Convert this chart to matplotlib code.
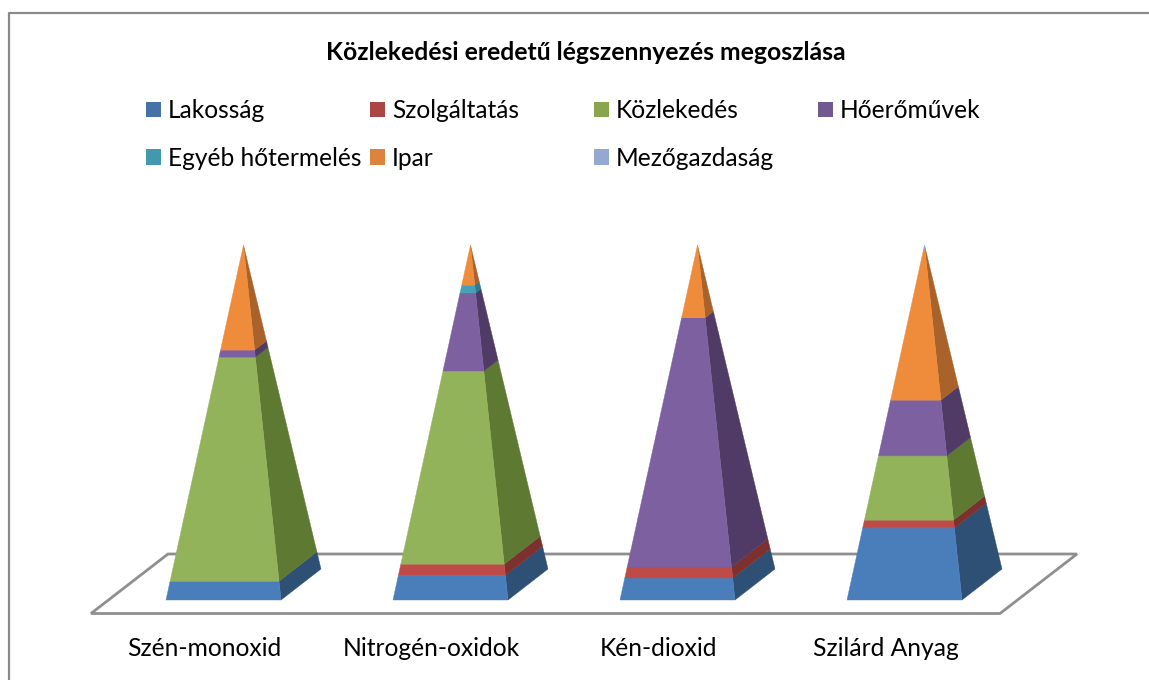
#!/usr/bin/env python3
# plot.py
# Stacked 100% pyramids, drawn as flat polygons on a category / percent axes

import matplotlib
matplotlib.use("Agg")
import matplotlib.pyplot as plt
from matplotlib.patches import Polygon, Rectangle

TITLE = "Közlekedési eredetű légszennyezés megoszlása"
categories = ["Szén-monoxid", "Nitrogén-oxidok", "Kén-dioxid", "Szilárd Anyag"]
series_names = ["Lakosság", "Szolgáltatás", "Közlekedés", "Hőerőművek",
                "Egyéb hőtermelés", "Ipar", "Mezőgazdaság"]

# percent share per category
lakossag = [5.3, 7.0, 6.2, 20.3]
szolgaltatas = [0.0, 3.1, 3.1, 2.2]
kozlekedes = [63.1, 54.4, 0.0, 18.1]
hoeromuvek = [2.0, 22.0, 70.2, 15.7]
egyeb = [0.0, 2.2, 0.0, 0.0]
ipar = [29.6, 11.3, 20.5, 42.3]
mezogazdasag = [0.0, 0.0, 0.0, 1.4]

front_colors = ["#4a7ebb", "#be4b48", "#93b35a", "#7d60a0", "#46a0b8", "#ee8c3c", "#93a9cf"]
side_colors = ["#2f5075", "#7d302e", "#5e7a32", "#4f3b66", "#2d7b90", "#a9622a", "#6880a8"]
legend_colors = ["#4572a7", "#aa4643", "#89a54e", "#71588f", "#4198af", "#db843d", "#93a9cf"]

W, H = 1149, 680
plt.rcParams["font.family"] = ["Lato", "DejaVu Sans"]

# axes scale: one category = 227 px, one percent = 3.55 px
PX_X = 227.0
PX_Y = 3.55
X0 = 223.5
Y0 = 600.0


def dx(px):
    return px / PX_X


def dy(px):
    return px / PX_Y


def lerp(p, q, t):
    return (p[0] + (q[0] - p[0]) * t, p[1] + (q[1] - p[1]) * t)


def draw_pyramid(ax, pos, values):
    half = dx(57.5)
    front_l = (pos - half, 0)
    front_r = (pos + half, 0)
    back_r = (pos + half + dx(40), dy(31))
    apex = (pos + dx(20), 100)

    bottom = 0.0
    for k, v in enumerate(values):
        if v <= 0:
            continue
        top = bottom + v
        t0, t1 = bottom / 100, top / 100
        # side first so the front face sits on top of the seam
        ax.add_patch(Polygon([lerp(front_r, apex, t0), lerp(back_r, apex, t0),
                              lerp(back_r, apex, t1), lerp(front_r, apex, t1)],
                             closed=True, fc=side_colors[k], ec=side_colors[k], lw=0.3))
        ax.add_patch(Polygon([lerp(front_l, apex, t0), lerp(front_r, apex, t0),
                              lerp(front_r, apex, t1), lerp(front_l, apex, t1)],
                             closed=True, fc=front_colors[k], ec=front_colors[k], lw=0.3))
        bottom = top


def main():
    fig = plt.figure(figsize=(W / 100, H / 100), dpi=100, facecolor="white")
    ax = fig.add_axes([0, 0, 1, 1])
    ax.set_xlim(-X0 / PX_X, (W - X0) / PX_X)
    ax.set_ylim(-(H - Y0) / PX_Y, Y0 / PX_Y)
    ax.axis("off")

    # floor of the chart
    floor_y0 = dy(-13.5)
    floor_y1 = dy(46)
    ax.add_patch(Polygon([(dx(91 - X0), floor_y0), (dx(1000 - X0), floor_y0),
                          (dx(1077 - X0), floor_y1), (dx(168 - X0), floor_y1)],
                         closed=True, fc="white", ec="#8f8f8f", lw=2.0))

    series = [lakossag, szolgaltatas, kozlekedes, hoeromuvek, egyeb, ipar, mezogazdasag]
    for i in range(len(categories)):
        draw_pyramid(ax, i, [s[i] for s in series])
        ax.text(i - dx(19), dy(-49), categories[i], ha="center", va="center",
                fontsize=17.7, color="black")

    # chart area border, only top and left are in the crop
    fig.add_artist(plt.Line2D([9 / W, 9 / W, 1], [0, 1 - 12.5 / H, 1 - 12.5 / H],
                              color="#8a8a8a", lw=1.6))

    fig.text(585.5 / W, 1 - 53 / H, TITLE, ha="center", va="center",
             fontsize=17.8, fontweight="bold", color="black")

    # legend: four even columns
    for k, name in enumerate(series_names):
        row, col = divmod(k, 4)
        x = 146 + col * 224
        y = 109.5 + row * 47.5
        fig.add_artist(Rectangle((x / W, 1 - (y + 7.5) / H), 15 / W, 15 / H,
                                 transform=fig.transFigure, fc=legend_colors[k], ec="none"))
        fig.text((x + 22) / W, 1 - (y + 1) / H, name, ha="left", va="center",
                 fontsize=17.65, color="black")

    fig.savefig("out.png", dpi=100)


if __name__ == "__main__":
    main()
